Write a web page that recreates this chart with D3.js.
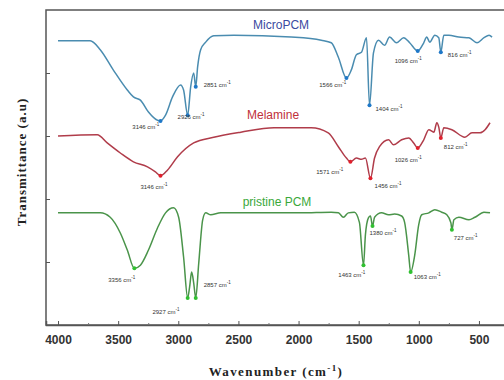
<!DOCTYPE html>
<html>
<head>
<meta charset="utf-8">
<script src="https://cdn.jsdelivr.net/npm/d3@7"></script>
<style>
  body { margin: 0; background: #fff; }
  svg { display: block; }
</style>
</head>
<body>
<div id="chart"></div>
<script>
// FTIR spectra: MicroPCM / Melamine / pristine PCM (stacked, arbitrary units)

// wavenumber (cm-1), transmittance (a.u.)
const microPCM = [
  [4000,4.51],[3733,4.51],[3649,4.37],[3541,4.05],[3424,3.73],[3373,3.62],[3315,3.57],
  [3248,3.38],[3173,3.25],[3148,3.24],[3106,3.33],[3048,3.62],[2981,3.81],[2956,3.73],
  [2922,3.33],[2897,3.78],[2872,4.00],[2855,3.78],[2839,4.10],[2814,4.37],[2772,4.49],
  [2705,4.59],[2538,4.60],[2062,4.57],[1811,4.52],[1728,4.48],[1669,4.25],[1602,3.92],
  [1561,4.05],[1519,4.29],[1477,4.33],[1435,4.56],[1410,3.49],[1377,4.32],[1335,4.52],
  [1285,4.44],[1243,4.57],[1185,4.48],[1126,4.56],[1076,4.48],[1009,4.35],[959,4.48],
  [934,4.57],[909,4.49],[867,4.60],[834,4.56],[817,4.33],[792,4.60],[750,4.60],
  [667,4.57],[583,4.56],[516,4.48],[458,4.56],[416,4.60],[391,4.57]
];

const melamine = [
  [4000,3.00],[3674,3.02],[3591,2.89],[3482,2.73],[3373,2.59],[3256,2.51],[3190,2.43],
  [3148,2.37],[3089,2.46],[3006,2.67],[2872,2.89],[2705,2.98],[2480,3.06],[2204,3.13],
  [2062,3.13],[1895,3.13],[1753,3.05],[1669,2.83],[1602,2.65],[1569,2.59],[1519,2.65],
  [1477,2.63],[1444,2.65],[1402,2.33],[1368,2.65],[1327,2.83],[1251,2.94],[1210,2.86],
  [1143,2.94],[1084,2.97],[1043,2.89],[1009,2.81],[959,2.94],[917,3.10],[875,3.06],
  [850,3.21],[834,3.14],[817,2.97],[792,3.13],[725,3.10],[617,2.98],[558,3.05],
  [491,3.05],[449,3.10],[408,3.21]
];

const pristinePCM = [
  [4000,1.78],[3649,1.78],[3566,1.71],[3482,1.46],[3424,1.19],[3365,0.90],[3315,0.95],
  [3248,1.19],[3173,1.54],[3106,1.78],[3039,1.86],[2997,1.71],[2956,1.08],[2922,0.43],
  [2906,0.60],[2889,0.84],[2872,0.67],[2855,0.43],[2830,0.98],[2797,1.67],[2772,1.78],
  [2730,1.75],[2647,1.78],[1978,1.78],[1728,1.79],[1669,1.78],[1627,1.71],[1586,1.78],
  [1536,1.79],[1494,1.63],[1460,0.95],[1444,1.43],[1419,1.70],[1402,1.73],[1385,1.57],
  [1368,1.71],[1310,1.78],[1252,1.75],[1201,1.76],[1143,1.73],[1118,1.63],[1084,1.11],
  [1068,0.84],[1034,1.11],[1001,1.59],[976,1.75],[917,1.78],[867,1.83],[809,1.79],
  [767,1.75],[733,1.62],[725,1.51],[708,1.67],[667,1.71],[583,1.67],[533,1.71],
  [458,1.79],[408,1.78]
];

// marked peaks: [peak wavenumber, label number, label wavenumber, label value]
const microPeaks = [
  [3148,"3146",3382,3.11],[2922,"2926",3006,3.27],[2855,"2851",2789,3.78],
  [1602,"1566",1828,3.78],[1410,"1404",1360,3.40],[1009,"1096",1201,4.16],
  [817,"816",759,4.25]
];
const melaminePeaks = [
  [3148,"3146",3315,2.16],[1569,"1571",1853,2.40],[1402,"1456",1368,2.17],
  [1009,"1026",1201,2.59],[817,"812",792,2.79]
];
const pristinePeaks = [
  [3365,"3356",3582,0.68],[2922,"2927",3215,0.17],[2855,"2857",2789,0.60],
  [1460,"1463",1669,0.76],[1385,"1380",1410,1.43],[1068,"1063",1043,0.73],
  [725,"727",709,1.35]
];

// series name and where its title sits [wavenumber, value]
const seriesNames = ["MicroPCM", "Melamine", "pristine PCM"];
const titleAt = [[2145,4.70],[2212,3.27],[2179,1.89]];

const xTicks = [4000,3500,3000,2500,2000,1500,1000,500];
const xMinorTicks = [3750,3250,2750,2250,1750,1250,750];
const yTicks = [1,2,3,4];

const W = 504, H = 380;
const m = {left: 46, right: 506, top: 10, bottom: 325};

const x = d3.scaleLinear().domain([4100, 275]).range([m.left, m.right]);
const y = d3.scaleLinear().domain([0, 5]).range([m.bottom, m.top]);

const svg = d3.select("#chart").append("svg")
  .attr("width", W).attr("height", H);

// frame (right side runs off the picture)
svg.append("rect")
  .attr("x", m.left).attr("y", m.top)
  .attr("width", m.right - m.left).attr("height", m.bottom - m.top)
  .attr("fill", "none").attr("stroke", "#555").attr("stroke-width", 1.5);

// bottom axis, ticks point inwards
const xAxis = svg.append("g").attr("transform", `translate(0,${m.bottom})`)
  .call(d3.axisBottom(x).tickValues(xTicks).tickSize(-4).tickPadding(10).tickFormat(d3.format("d")));
xAxis.select(".domain").attr("stroke", "#555").attr("stroke-width", 1.5);
xAxis.selectAll(".tick line").attr("stroke", "#555");
xAxis.selectAll("text")
  .attr("font-family", "Arial, 'Liberation Sans', sans-serif")
  .attr("font-weight", "bold").attr("font-size", 12).attr("fill", "#333");

svg.append("g").attr("transform", `translate(0,${m.bottom})`)
  .call(d3.axisBottom(x).tickValues(xMinorTicks).tickSize(-2).tickFormat(""))
  .call(g => g.select(".domain").remove())
  .selectAll(".tick line").attr("stroke", "#777");

const yAxis = svg.append("g").attr("transform", `translate(${m.left},0)`)
  .call(d3.axisLeft(y).tickValues(yTicks).tickSize(-4).tickFormat(""));
yAxis.select(".domain").remove();
yAxis.selectAll(".tick line").attr("stroke", "#555");

// axis titles
svg.append("text")
  .attr("x", 276).attr("y", 376).attr("text-anchor", "middle")
  .attr("font-family", "'Times New Roman', 'Liberation Serif', serif")
  .attr("font-weight", "bold").attr("font-size", 13).attr("letter-spacing", 1.4)
  .attr("fill", "#222")
  .call(t => {
    t.append("tspan").text("Wavenumber (cm");
    t.append("tspan").attr("dy", -5).attr("font-size", 9).text("-1");
    t.append("tspan").attr("dy", 5).text(")");
  });

svg.append("text")
  .attr("transform", "translate(26,162) rotate(-90)")
  .attr("text-anchor", "middle")
  .attr("font-family", "'Times New Roman', 'Liberation Serif', serif")
  .attr("font-weight", "bold").attr("font-size", 13).attr("letter-spacing", 1)
  .attr("fill", "#222")
  .text("Transmittance (a.u)");

const line = d3.line().x(d => x(d[0])).y(d => y(d[1])).curve(d3.curveMonotoneX);

const series = [
  {data: microPCM, peaks: microPeaks, line: "#4a8cb0", mark: "#1f78c8", title: "#3a4aa0"},
  {data: melamine, peaks: melaminePeaks, line: "#b03c4a", mark: "#e0202c", title: "#c0303a"},
  {data: pristinePCM, peaks: pristinePeaks, line: "#4a944a", mark: "#30c030", title: "#3aa83a"}
];

series.forEach((s, i) => {
  svg.append("path").datum(s.data)
    .attr("fill", "none").attr("stroke", s.line)
    .attr("stroke-width", 1.5).attr("stroke-linejoin", "round")
    .attr("d", line);

  const lookup = new Map(s.data.map(d => [d[0], d[1]]));

  svg.append("g").selectAll("circle").data(s.peaks).join("circle")
    .attr("cx", d => x(d[0])).attr("cy", d => y(lookup.get(d[0])))
    .attr("r", 2).attr("fill", s.mark);

  const labels = svg.append("g").selectAll("text").data(s.peaks).join("text")
    .attr("x", d => x(d[2])).attr("y", d => y(d[3]))
    .attr("font-family", "Arial, 'Liberation Sans', sans-serif")
    .attr("font-size", 6).attr("fill", "#333");
  labels.append("tspan").text(d => d[1] + " cm");
  labels.append("tspan").attr("dy", -3).attr("font-size", 4.5).text("-1");

  svg.append("text")
    .attr("x", x(titleAt[i][0])).attr("y", y(titleAt[i][1]))
    .attr("text-anchor", "middle")
    .attr("font-family", "Arial, 'Liberation Sans', sans-serif")
    .attr("font-size", 12).attr("fill", s.title)
    .text(seriesNames[i]);
});
</script>
</body>
</html>
